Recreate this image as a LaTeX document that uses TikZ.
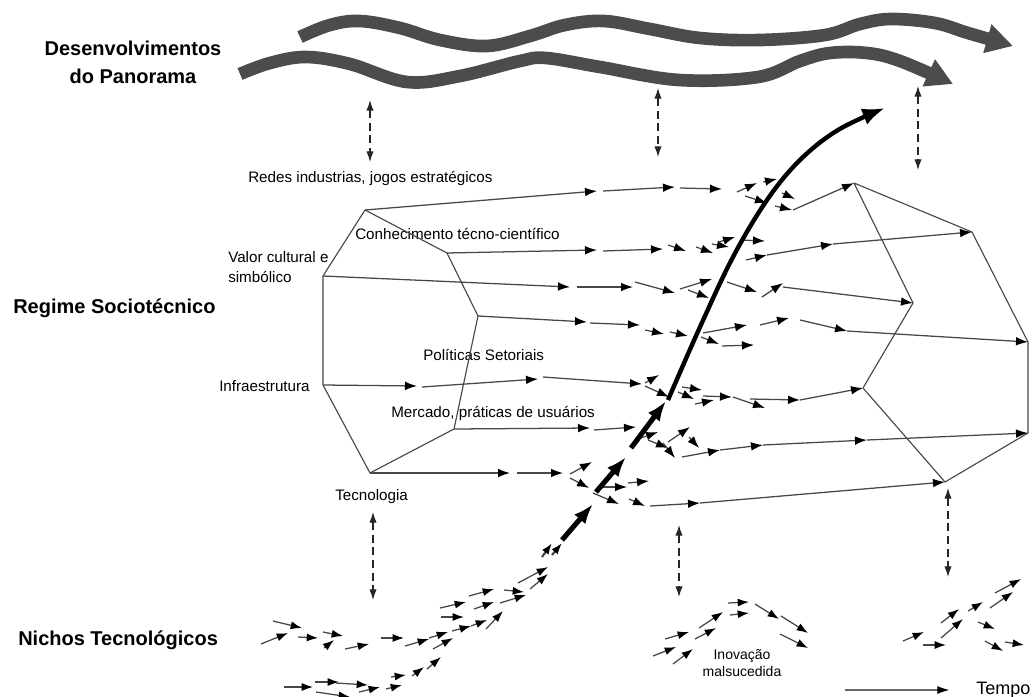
\documentclass[tikz,border=0pt]{standalone}
\usepackage{fontspec}
\setmainfont{Liberation Sans}
\usetikzlibrary{arrows.meta}
\begin{document}
\begin{tikzpicture}[x=0.75pt,y=-0.75pt,
  lbl/.style={font=\fontsize{11.4}{15}\selectfont, inner sep=0pt, anchor=west, align=left},
  hdr/.style={font=\fontsize{15}{21}\selectfont\bfseries, inner sep=0pt},
  edge/.style={draw=black!72, line width=0.85pt, line join=round},
  fl/.style={draw=black!72, line width=0.95pt, -{Latex[length=9pt,width=6.5pt,color=black]}},
  sm/.style={draw=black!72, line width=0.95pt, -{Latex[length=8.5pt,width=6pt,color=black]}},
  thk/.style={draw=black, line width=3.8pt, -{Latex[length=15pt,width=11pt]}},
  dsh/.style={draw=black!85, line width=0.85pt, dash pattern=on 6pt off 3.5pt,
     {Latex[length=8pt,width=5.5pt]}-{Latex[length=8pt,width=5.5pt]}},
  band/.style={draw=black!70, line width=9.5pt, -{Triangle[length=20pt,width=21pt]}}
]
\useasboundingbox (0,0) rectangle (1033,697);

% ---------- landscape bands
\draw[band] plot[smooth, tension=0.6] coordinates {(300,37)(330,25)(360,21)(400,28)(440,40)(487,46)(530,36)(565,25)(604,21)(650,29)(700,38)(760,40)(825,35)(860,24)(891,19)(935,23)(968,33)(1013,46)};
\draw[band] plot[smooth, tension=0.6] coordinates {(240,74)(270,63)(306,57)(350,64)(407,82)(460,76)(520,61)(546,58)(600,67)(679,80)(758,77)(800,61)(830,53)(867,53)(900,61)(953,84)};

% ---------- text labels
\node[hdr, align=center] (dp) at (133,62) {Desenvolvimentos\\do Panorama};
\node[hdr, anchor=west] (rs) at (13,308) {Regime Sociotécnico};
\node[hdr, anchor=west] (nt) at (18,640) {Nichos Tecnológicos};
\node[lbl] (re) at (248,178) {Redes industrias, jogos estratégicos};
\node[lbl] (co) at (355,234) {Conhecimento técno-científico};
\node[lbl] (vc) at (228,267) {Valor cultural e\\simbólico};
\node[lbl] (po) at (423,355) {Políticas Setoriais};
\node[lbl] (in) at (219,386) {Infraestrutura};
\node[lbl] (me) at (391,413) {Mercado, práticas de usuários};
\node[lbl] (te) at (335,497) {Tecnologia};
\node[font=\fontsize{10.5}{13}\selectfont, align=center, inner sep=0pt] (im) at (742,663) {Inovação\\malsucedida};
\node[font=\fontsize{13.5}{15}\selectfont, anchor=west, inner sep=0pt] (tp) at (976,690) {Tempo};
\coordinate (ts) at (845,690);
\draw[draw=black!60, line width=0.9pt, -{Latex[length=9pt,width=6pt,color=black]}, shorten >=20pt] (ts) -- (tp.west);

% ---------- dashed interaction arrows
\draw[dsh] (370,100) -- (370,162);
\draw[dsh] (658,88) -- (658,157);
\draw[dsh] (918,86) -- (918,170);
\draw[dsh] (373,512) -- (373,600);
\draw[dsh] (679,525) -- (679,597);
\draw[dsh] (948,488) -- (948,577);

% ---------- regime polygons
\coordinate (A1) at (365,210); \coordinate (B1) at (447,253);
\coordinate (C1) at (478,316); \coordinate (D1) at (454,429);
\coordinate (E1) at (370,473); \coordinate (F1) at (323,385);
\coordinate (G1) at (323,276);
\draw[edge] (A1)--(B1)--(C1)--(D1)--(E1)--(F1)--(G1)--cycle;
\coordinate (A2) at (854,183); \coordinate (B2) at (972,232);
\coordinate (C2) at (1028,342); \coordinate (D2) at (1028,433);
\coordinate (E2) at (945,482); \coordinate (F2) at (863,388);
\coordinate (G2) at (913,303);
\draw[edge] (A2)--(B2)--(C2)--(D2)--(E2)--(F2)--(G2)--cycle;

% ---------- regime flows
\foreach \a/\b/\c/\d in {
 % flow 1
 365/210/597/191, 603/191/675/187, 680/188/722/189, 737/192/757/183, 763/182/777/179,
 745/196/767/203, 782/193/795/199, 775/206/792/210,
 % flow 2
 447/253/597/250, 603/251/663/249, 668/245/686/251, 696/247/713/253, 712/244/729/247,
 719/242/735/237, 740/240/765/241, 746/260/767/255, 767/255/833/244,
 % flow 3
 323/276/570/287, 577/287/633/287, 635/282/675/293, 680/289/712/279, 688/290/709/298,
 727/282/757/292, 762/297/783/283,
 % flow 4
 478/316/587/322, 590/323/640/325, 645/330/664/334, 670/332/688/336, 703/333/747/325,
 701/337/719/344, 722/346/754/345, 760/325/789/318, 800/320/847/331,
 % flow 5
 323/385/417/386, 422/387/538/379, 543/377/642/384, 645/383/659/375, 645/386/669/397,
 682/387/702/390, 678/392/694/399, 703/396/732/397, 695/404/714/400, 733/397/765/408,
 750/399/800/400,
 % flow 6
 454/429/590/428, 594/430/636/427, 641/438/658/432, 648/440/668/448, 663/443/675/458,
 668/442/690/427, 689/437/699/448, 682/457/720/450, 720/450/763/445, 763/445/867/440,
 % flow 7
 370/473/510/473, 517/473/563/473, 570/474/592/462, 570/478/589/488, 593/493/619/504,
 600/487/627/487, 628/483/649/481, 629/499/645/506, 650/506/700/503}
 \draw[fl] (\a,\b) -- (\c,\d);
\draw[fl] (783,287) -- (G2);
\draw[fl] (833,244) -- (B2);
\draw[fl] (793,210) -- (A2);
\draw[fl] (847,331) -- (C2);
\draw[fl] (800,400) -- (F2);
\draw[fl] (867,440) -- (D2);
\draw[fl] (700,503) -- (E2);

% ---------- niche arrows
\foreach \a/\b/\c/\d in {
 273/621/302/628, 261/644/288/633, 298/637/318/638, 323/632/343/636, 324/648/334/640,
 345/649/369/644, 381/638/404/638, 405/646/429/639, 429/638/448/632, 433/649/453/638,
 440/608/466/602, 441/617/464/617, 452/631/471/626, 471/626/487/620, 486/629/503/611,
 469/596/494/589, 474/609/494/602, 504/590/524/592, 500/603/526/595, 518/583/548/567,
 530/589/548/574,
 284/687/313/687, 315/682/339/682, 316/692/350/697, 336/683/368/685, 359/692/380/687,
 386/689/402/685, 391/677/406/675, 412/676/424/667, 427/669/441/657,
 653/656/676/647, 665/639/689/632, 673/664/693/649, 695/639/716/628, 699/628/723/612,
 728/603/749/602, 730/615/749/613, 755/604/779/619, 781/616/808/633, 780/634/808/648,
 903/641/924/632, 923/645/946/645, 941/623/959/609, 941/638/963/619, 968/611/983/602,
 978/622/995/629, 985/641/1003/651, 990/608/1013/592, 995/593/1021/579, 1005/642/1024/645}
 \draw[sm] (\a,\b) -- (\c,\d);

% ---------- breakthrough (thick) arrow
\draw[sm, line width=1.6pt] (542,557) -- (552,543);
\draw[sm, line width=1.6pt] (552,555) -- (562,543);
\draw[thk] (562,540) -- (593,504);
\draw[thk] (596,492) -- (626,457);
\draw[thk] (631,448) -- (666,401);
\draw[draw=black, line width=3.3pt, -{Latex[length=17pt,width=13pt]}] plot[smooth, tension=0.6] coordinates {(668,400)(700,327)(733,257)(767,200)(800,160)(838,130)(885,108)};
\end{tikzpicture}
\end{document}
